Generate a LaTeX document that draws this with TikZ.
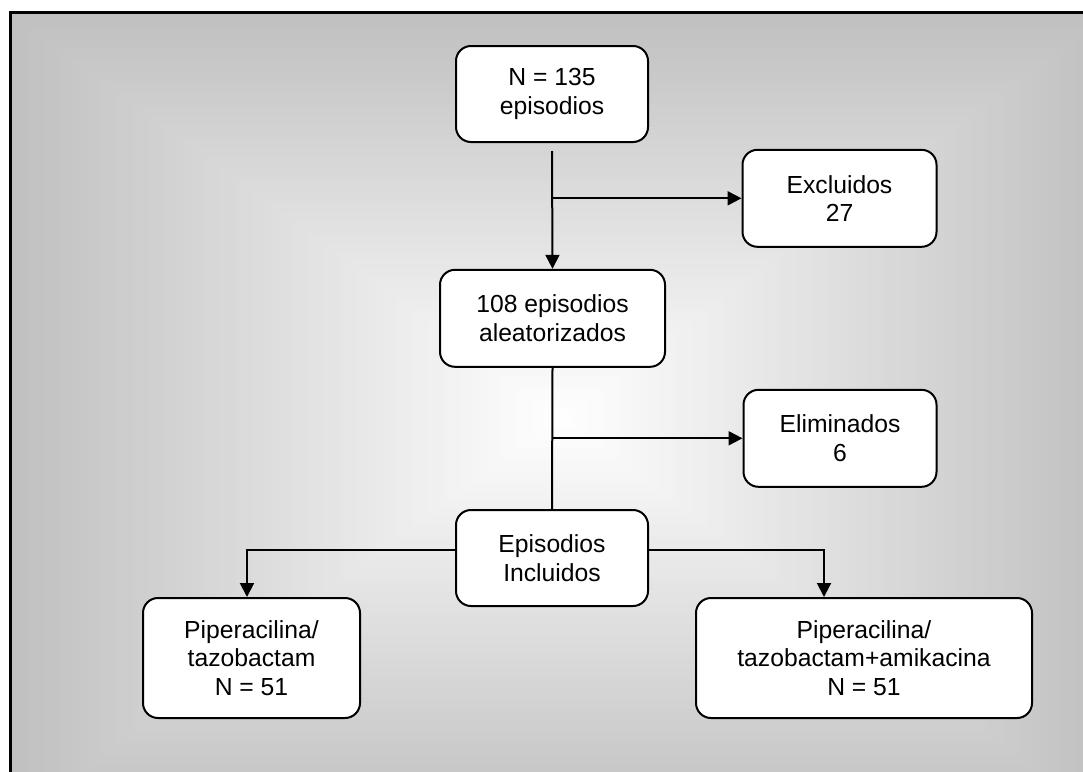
\documentclass[tikz,border=0pt]{standalone}
\usepackage{fontspec}
\setmainfont{Liberation Sans}
\usetikzlibrary{arrows.meta,calc}
\definecolor{bggray}{RGB}{192,192,192}
\begin{document}
\begin{tikzpicture}[x=1pt,y=-1pt,
  box/.style={draw=black,line width=2pt,fill=white,rounded corners=15pt,align=center,
    font=\fontsize{24.7}{28.5}\selectfont,inner sep=0pt},
  conn/.style={line width=2pt,draw=black},
  arr/.style={conn,-{Triangle[length=14pt,width=14pt]}}]
\useasboundingbox (0,0) rectangle (1083,771);
\begin{scope}
\clip (0,0) rectangle (1083,771);
\fill[white] (0,0) rectangle (1083,771);
\foreach \i in {0,...,99}{
  \pgfmathsetmacro\s{1-\i/100}
  \pgfmathtruncatemacro\c{100-\i}
  \fill[bggray!\c!white] ({560-548*\s},{418-404*\s}) rectangle ({560+548*\s},{418+404*\s});
}
\draw[line width=3pt] (10.5,12.5) rectangle (1200,900);
\end{scope}

\node[box,minimum width=192pt,minimum height=96pt] (n1) at (552,94) {N = 135\\episodios};
\node[box,minimum width=194pt,minimum height=97pt] (exc) at (839.5,198.3) {Excluidos\\27};
\node[box,minimum width=225pt,minimum height=97pt] (n2) at (552.5,318.3) {108 episodios\\aleatorizados};
\node[box,minimum width=193pt,minimum height=97pt] (eli) at (840,438.3) {Eliminados\\6};
\node[box,minimum width=192pt,minimum height=96pt] (inc) at (552,558) {Episodios\\Incluidos};
\node[box,minimum width=217pt,minimum height=120pt] (pl) at (251.5,658) {Piperacilina/\\tazobactam\\N = 51};
\node[box,minimum width=336pt,minimum height=120pt] (pr) at (864,658) {Piperacilina/\\tazobactam+amikacina\\N = 51};

\draw[arr] ([yshift=-8pt]n1.south) -- (n2.north);
\draw[arr] (n1.south |- exc.west) -- (exc.west);
\draw[conn] (n2.south) -- (inc.north);
\draw[arr] (n2.south |- eli.west) -- (eli.west);
\draw[arr] ([yshift=8pt]inc.west) -| ([xshift=-4.5pt]pl.north);
\draw[arr] ([yshift=8pt]inc.east) -| ([xshift=-40pt]pr.north);
\end{tikzpicture}
\end{document}
